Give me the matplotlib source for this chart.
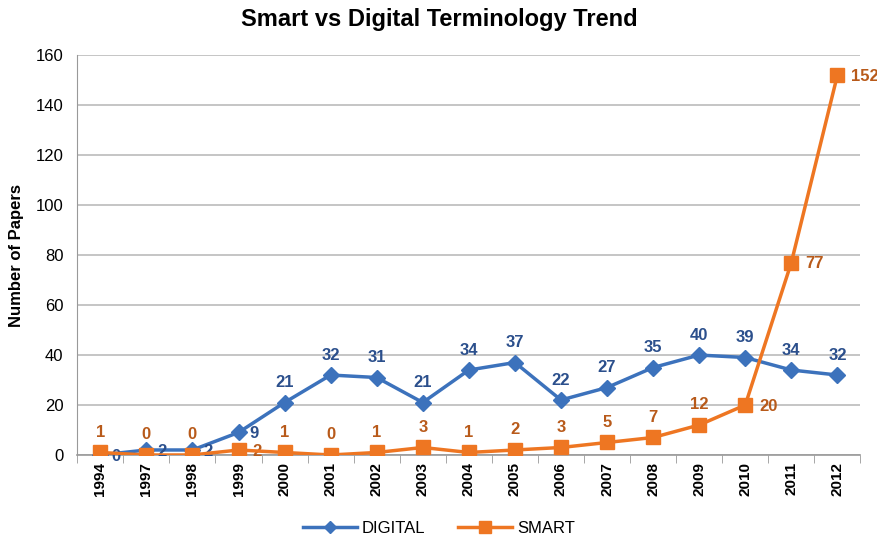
import matplotlib.pyplot as plt
import numpy as np

plt.rcParams['font.family'] = ['Liberation Sans Narrow', 'Liberation Sans', 'DejaVu Sans']

years = ['1994', '1997', '1998', '1999', '2000', '2001', '2002', '2003', '2004',
         '2005', '2006', '2007', '2008', '2009', '2010', '2011', '2012']
digital = [0, 2, 2, 9, 21, 32, 31, 21, 34, 37, 22, 27, 35, 40, 39, 34, 32]
smart = [1, 0, 0, 2, 1, 0, 1, 3, 1, 2, 3, 5, 7, 12, 20, 77, 152]

# labels placed to the right instead of above
digital_right = {0, 1, 2, 3}
smart_right = {3, 14, 15, 16}

blue = '#3C72BC'
blue_txt = '#2B4F8C'
orange = '#EE7622'
orange_txt = '#B85A1A'

fig = plt.figure(figsize=(8.78, 5.41), dpi=100)
ax = fig.add_axes([0.088, 0.159, 0.892, 0.739])

x = np.arange(len(years))
ax.plot(x, digital, color=blue, lw=2.5, marker='D', ms=8, label='DIGITAL', zorder=3)
ax.plot(x, smart, color=orange, lw=2.5, marker='s', ms=10, label='SMART', zorder=4)

for i in x:
    if i in digital_right:
        ax.annotate(str(digital[i]), (i, digital[i]), xytext=(8, -1), textcoords='offset points',
                    ha='left', va='center', color=blue_txt, fontsize=12, fontweight='bold')
    else:
        ax.annotate(str(digital[i]), (i, digital[i]), xytext=(0, 9), textcoords='offset points',
                    ha='center', va='bottom', color=blue_txt, fontsize=12, fontweight='bold')
    if i in smart_right:
        ax.annotate(str(smart[i]), (i, smart[i]), xytext=(10, -1), textcoords='offset points',
                    ha='left', va='center', color=orange_txt, fontsize=12, fontweight='bold',
                    annotation_clip=False)
    else:
        ax.annotate(str(smart[i]), (i, smart[i]), xytext=(0, 9), textcoords='offset points',
                    ha='center', va='bottom', color=orange_txt, fontsize=12, fontweight='bold')

ax.set_xlim(-0.45, len(years) - 0.55)
ax.set_ylim(0, 160)
ax.set_yticks(range(0, 161, 20))
ax.set_xticks(x)
ax.set_xticklabels(years, rotation=90, fontsize=11, fontweight='bold')
ax.tick_params(axis='y', labelsize=12, length=0, pad=10)
ax.set_xticks(np.arange(-0.5, len(years), 1), minor=True)
ax.tick_params(axis='x', which='major', length=0, pad=5)
ax.tick_params(axis='x', which='minor', length=6, color='#999999')

ax.grid(axis='y', color='#BBBBBB', lw=1.2)
ax.set_axisbelow(True)
for s in ['top', 'right']:
    ax.spines[s].set_visible(False)
ax.spines['left'].set_color('#999999')
ax.spines['bottom'].set_color('#999999')
ax.spines['bottom'].set_linewidth(1.2)

ax.set_ylabel('Number of Papers', fontsize=12, fontweight='bold', labelpad=8)
fig.suptitle('Smart vs Digital Terminology Trend', fontsize=17, fontweight='bold', y=0.985)

fig.legend(loc='lower center', ncol=2, frameon=False, fontsize=12, bbox_to_anchor=(0.5, -0.018),
           handlelength=3.2, columnspacing=2, handletextpad=0.3, markerscale=0.8)

fig.savefig('out.png', dpi=100)
